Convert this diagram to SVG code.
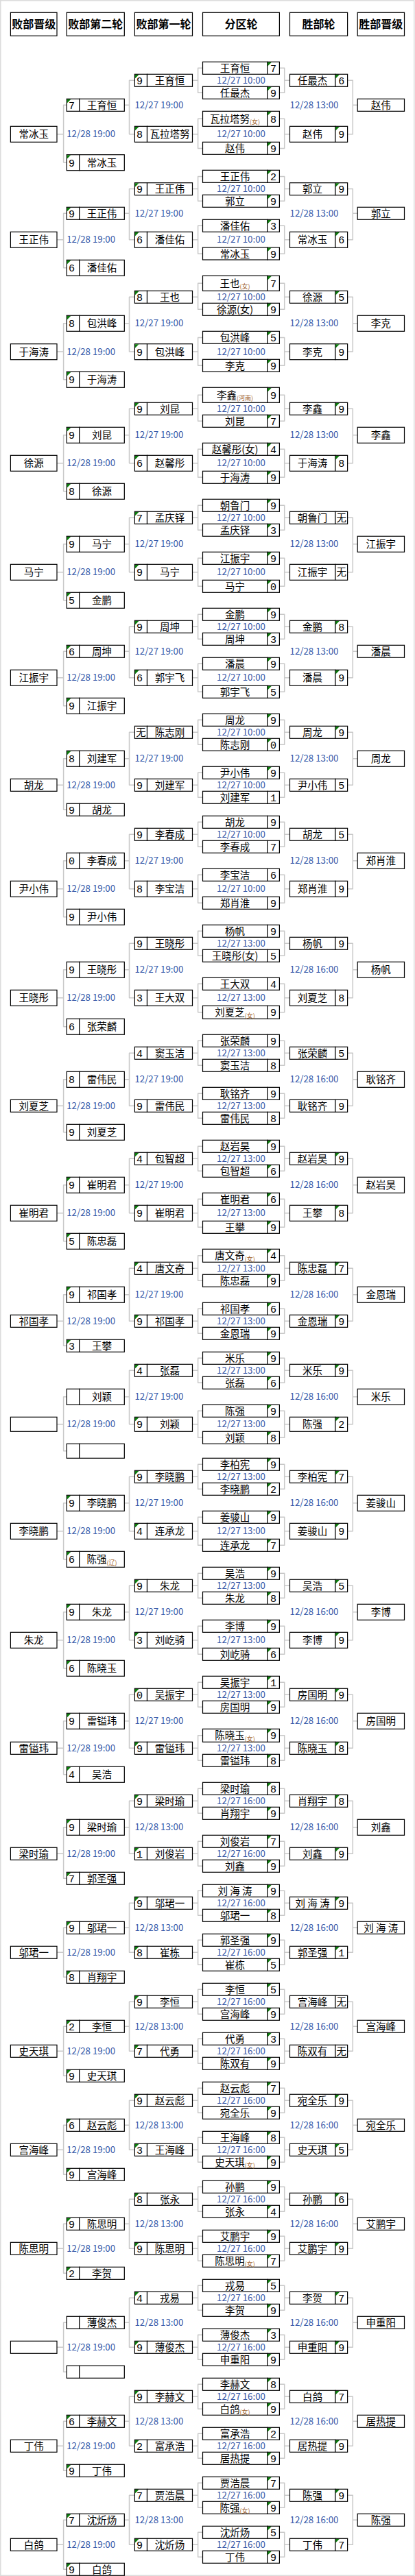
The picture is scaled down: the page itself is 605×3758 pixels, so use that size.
<svg xmlns="http://www.w3.org/2000/svg" xmlns:xlink="http://www.w3.org/1999/xlink" width="605" height="3758" viewBox="0 0 605 3758">
<style>
.b{fill:#fff;stroke:#000;stroke-width:1.2}
text{font-family:"Noto Sans CJK SC","Noto Sans CJK JP",sans-serif}
.n{font-size:14.5px;text-anchor:middle;fill:#000}
.s{font-family:"Liberation Mono","DejaVu Sans Mono",monospace;font-size:15px;text-anchor:middle;fill:#000}
.u{font-size:9px;fill:#a0622d}
.d{font-family:"Liberation Mono","DejaVu Sans Mono",monospace;font-size:13.3px;fill:#3557a7}
.m{text-anchor:middle}
.h{font-size:16px;font-weight:bold;text-anchor:middle;fill:#000}
.c{fill:none;stroke:#c8c8c8;stroke-width:1.5;stroke-linejoin:round}
</style>
<defs>
<path id="t" d="M0 0h5.5L0 5.5z" fill="#0a7a0a"/>
<g id="D18"><rect class="b" width="94.2" height="18"/><rect class="b" x="94.2" width="17.7" height="18"/></g>
<g id="D19"><rect class="b" width="94.2" height="19"/><rect class="b" x="94.2" width="17.7" height="19"/></g>
<g id="D22"><rect class="b" width="94.2" height="22"/><rect class="b" x="94.2" width="17.7" height="22"/></g>
<g id="W18"><rect class="b" width="66.3" height="18"/><rect class="b" x="66.3" width="17.8" height="18"/></g>
<g id="W21"><rect class="b" width="66.3" height="21"/><rect class="b" x="66.3" width="17.8" height="21"/></g>
<g id="W23"><rect class="b" width="66.3" height="23"/><rect class="b" x="66.3" width="17.8" height="23"/></g>
<g id="E18"><rect class="b" width="18.1" height="18"/><rect class="b" x="18.1" width="66" height="18"/></g>
<g id="E21"><rect class="b" width="18.1" height="21"/><rect class="b" x="18.1" width="66" height="21"/></g>
<g id="E23"><rect class="b" width="18.1" height="23"/><rect class="b" x="18.1" width="66" height="23"/></g>
<g id="F18"><rect class="b" width="18.5" height="18"/><rect class="b" x="18.5" width="65.6" height="18"/></g>
<g id="F21"><rect class="b" width="18.5" height="21"/><rect class="b" x="18.5" width="65.6" height="21"/></g>
<g id="F23"><rect class="b" width="18.5" height="23"/><rect class="b" x="18.5" width="65.6" height="23"/></g>
<rect id="Q18" class="b" width="68.3" height="18"/>
<rect id="Q23" class="b" width="68.3" height="23"/>
<rect id="R18" class="b" width="67.6" height="18"/>
<rect id="R21" class="b" width="67.6" height="21"/>
<rect id="R23" class="b" width="67.6" height="23"/>
<clipPath id="k1"><rect x="196.4" y="0" width="84.1" height="3758"/></clipPath>
<clipPath id="k2"><rect x="97.2" y="0" width="84.1" height="3758"/></clipPath>
<clipPath id="k3"><rect x="422.5" y="0" width="84.1" height="3758"/></clipPath>
</defs>
<rect x="0" y="0" width="605" height="3758" fill="#fff"/>
<rect x="0.75" y="0.75" width="603" height="3756.5" fill="none" stroke="#dcdcdc" stroke-width="1.5"/>

<g id="headers">
<g id="h1"><rect class="b" x="15.4" y="18.3" width="67.6" height="34"/><text class="h" x="49.2" y="41.3">败部晋级</text></g>
<g id="h2"><rect class="b" x="97.2" y="18.3" width="84.1" height="34"/><text class="h" x="139.2" y="41.3">败部第二轮</text></g>
<g id="h3"><rect class="b" x="196.4" y="18.3" width="84.1" height="34"/><text class="h" x="238.4" y="41.3">败部第一轮</text></g>
<g id="h4"><rect class="b" x="295.5" y="18.3" width="111.9" height="34"/><text class="h" x="351.5" y="41.3">分区轮</text></g>
<g id="h5"><rect class="b" x="422.5" y="18.3" width="84.1" height="34"/><text class="h" x="464.5" y="41.3">胜部轮</text></g>
<g id="h6"><rect class="b" x="521.2" y="18.3" width="68.3" height="34"/><text class="h" x="555.3" y="41.3">胜部晋级</text></g>
</g>

<g id="connectors" class="c">
<path d="M295.5 99.3H288.6V135.3H295.5M288.6 117.3H280.5M407.4 99.3H414.7V135.3H407.4M414.7 117.3H422.5M295.5 173.3H288.6V216.5H295.5M288.6 195.8H280.5M407.4 173.3H414.7V216.5H407.4M414.7 195.8H422.5M196.4 117.3H188.5V195.8H196.4M188.5 153.3H181.3M506.6 117.3H514.3V195.8H506.6M514.3 153.3H521.2M97.2 153.3H92.6V237H97.2M92.6 195.8H83"/>
<path d="M295.5 257.5H288.6V293.3H295.5M288.6 275.5H280.5M407.4 257.5H414.7V293.3H407.4M414.7 275.5H422.5M295.5 329.3H288.6V370.2H295.5M288.6 349.7H280.5M407.4 329.3H414.7V370.2H407.4M414.7 349.7H422.5M196.4 275.5H188.5V349.7H196.4M188.5 311.3H181.3M506.6 275.5H514.3V349.7H506.6M514.3 311.3H521.2M97.2 311.3H92.6V390.8H97.2M92.6 349.7H83"/>
<path d="M295.5 413.3H288.6V451.3H295.5M288.6 433.3H280.5M407.4 413.3H414.7V451.3H407.4M414.7 433.3H422.5M295.5 492.5H288.6V533.3H295.5M288.6 513H280.5M407.4 492.5H414.7V533.3H407.4M414.7 513H422.5M196.4 433.3H188.5V513H196.4M188.5 471.8H181.3M506.6 433.3H514.3V513H506.6M514.3 471.8H521.2M97.2 471.8H92.6V553.8H97.2M92.6 513H83"/>
<path d="M295.5 576.3H288.6V614.3H295.5M288.6 596.3H280.5M407.4 576.3H414.7V614.3H407.4M414.7 596.3H422.5M295.5 655.3H288.6V696.3H295.5M288.6 675.8H280.5M407.4 655.3H414.7V696.3H407.4M414.7 675.8H422.5M196.4 596.3H188.5V675.8H196.4M188.5 634.8H181.3M506.6 596.3H514.3V675.8H506.6M514.3 634.8H521.2M97.2 634.8H92.6V716.8H97.2M92.6 675.8H83"/>
<path d="M295.5 737.3H288.6V773.3H295.5M288.6 755.3H280.5M407.4 737.3H414.7V773.3H407.4M414.7 755.3H422.5M295.5 814.3H288.6V855.3H295.5M288.6 834.8H280.5M407.4 814.3H414.7V855.3H407.4M414.7 834.8H422.5M196.4 755.3H188.5V834.8H196.4M188.5 793.8H181.3M506.6 755.3H514.3V834.8H506.6M514.3 793.8H521.2M97.2 793.8H92.6V875.8H97.2M92.6 834.8H83"/>
<path d="M295.5 896.3H288.6V932.3H295.5M288.6 914.3H280.5M407.4 896.3H414.7V932.3H407.4M414.7 914.3H422.5M295.5 968.3H288.6V1009.3H295.5M288.6 988.8H280.5M407.4 968.3H414.7V1009.3H407.4M414.7 988.8H422.5M196.4 914.3H188.5V988.8H196.4M188.5 950.3H181.3M506.6 914.3H514.3V988.8H506.6M514.3 950.3H521.2M97.2 950.3H92.6V1029.8H97.2M92.6 988.8H83"/>
<path d="M295.5 1050.3H288.6V1086.3H295.5M288.6 1068.3H280.5M407.4 1050.3H414.7V1086.3H407.4M414.7 1068.3H422.5M295.5 1127.3H288.6V1163.3H295.5M288.6 1145.3H280.5M407.4 1127.3H414.7V1163.3H407.4M414.7 1145.3H422.5M196.4 1068.3H188.5V1145.3H196.4M188.5 1106.8H181.3M506.6 1068.3H514.3V1145.3H506.6M514.3 1106.8H521.2M97.2 1106.8H92.6V1181.3H97.2M92.6 1145.3H83"/>
<path d="M295.5 1199.3H288.6V1235.3H295.5M288.6 1217.3H280.5M407.4 1199.3H414.7V1235.3H407.4M414.7 1217.3H422.5M295.5 1276.3H288.6V1317.3H295.5M288.6 1296.8H280.5M407.4 1276.3H414.7V1317.3H407.4M414.7 1296.8H422.5M196.4 1217.3H188.5V1296.8H196.4M188.5 1255.8H181.3M506.6 1217.3H514.3V1296.8H506.6M514.3 1255.8H521.2M97.2 1255.8H92.6V1337.8H97.2M92.6 1296.8H83"/>
<path d="M295.5 1358.3H288.6V1394.3H295.5M288.6 1376.3H280.5M407.4 1358.3H414.7V1394.3H407.4M414.7 1376.3H422.5M295.5 1435.3H288.6V1476.8H295.5M288.6 1455.8H280.5M407.4 1435.3H414.7V1476.8H407.4M414.7 1455.8H422.5M196.4 1376.3H188.5V1455.8H196.4M188.5 1414.8H181.3M506.6 1376.3H514.3V1455.8H506.6M514.3 1414.8H521.2M97.2 1414.8H92.6V1497.8H97.2M92.6 1455.8H83"/>
<path d="M295.5 1518.3H288.6V1554.3H295.5M288.6 1536.3H280.5M407.4 1518.3H414.7V1554.3H407.4M414.7 1536.3H422.5M295.5 1595.3H288.6V1631.3H295.5M288.6 1613.3H280.5M407.4 1595.3H414.7V1631.3H407.4M414.7 1613.3H422.5M196.4 1536.3H188.5V1613.3H196.4M188.5 1574.8H181.3M506.6 1536.3H514.3V1613.3H506.6M514.3 1574.8H521.2M97.2 1574.8H92.6V1651.8H97.2M92.6 1613.3H83"/>
<path d="M295.5 1672.3H288.6V1708.3H295.5M288.6 1690.3H280.5M407.4 1672.3H414.7V1708.3H407.4M414.7 1690.3H422.5M295.5 1749.3H288.6V1790.3H295.5M288.6 1769.8H280.5M407.4 1749.3H414.7V1790.3H407.4M414.7 1769.8H422.5M196.4 1690.3H188.5V1769.8H196.4M188.5 1728.8H181.3M506.6 1690.3H514.3V1769.8H506.6M514.3 1728.8H521.2M97.2 1728.8H92.6V1810.8H97.2M92.6 1769.8H83"/>
<path d="M295.5 1831.8H288.6V1868.3H295.5M288.6 1850.3H280.5M407.4 1831.8H414.7V1868.3H407.4M414.7 1850.3H422.5M295.5 1909.3H288.6V1945.3H295.5M288.6 1927.3H280.5M407.4 1909.3H414.7V1945.3H407.4M414.7 1927.3H422.5M196.4 1850.3H188.5V1927.3H196.4M188.5 1888.8H181.3M506.6 1850.3H514.3V1927.3H506.6M514.3 1888.8H521.2M97.2 1888.8H92.6V1963.3H97.2M92.6 1927.3H83"/>
<path d="M295.5 1981.3H288.6V2017.3H295.5M288.6 1999.3H280.5M407.4 1981.3H414.7V2017.3H407.4M414.7 1999.3H422.5M295.5 2058.3H288.6V2097.3H295.5M288.6 2077.8H280.5M407.4 2058.3H414.7V2097.3H407.4M414.7 2077.8H422.5M196.4 1999.3H188.5V2077.8H196.4M188.5 2037.8H181.3M506.6 1999.3H514.3V2077.8H506.6M514.3 2037.8H521.2M97.2 2037.8H92.6V2116.8H97.2M92.6 2077.8H83"/>
<path d="M295.5 2136.3H288.6V2172.3H295.5M288.6 2154.3H280.5M407.4 2136.3H414.7V2172.3H407.4M414.7 2154.3H422.5M295.5 2213.3H288.6V2254.3H295.5M288.6 2233.8H280.5M407.4 2213.3H414.7V2254.3H407.4M414.7 2233.8H422.5M196.4 2154.3H188.5V2233.8H196.4M188.5 2192.8H181.3M506.6 2154.3H514.3V2233.8H506.6M514.3 2192.8H521.2M97.2 2192.8H92.6V2274.8H97.2M92.6 2233.8H83"/>
<path d="M295.5 2295.3H288.6V2331.3H295.5M288.6 2313.3H280.5M407.4 2295.3H414.7V2331.3H407.4M414.7 2313.3H422.5M295.5 2372.3H288.6V2413.3H295.5M288.6 2392.8H280.5M407.4 2372.3H414.7V2413.3H407.4M414.7 2392.8H422.5M196.4 2313.3H188.5V2392.8H196.4M188.5 2351.8H181.3M506.6 2313.3H514.3V2392.8H506.6M514.3 2351.8H521.2M97.2 2351.8H92.6V2433.8H97.2M92.6 2392.8H83"/>
<path d="M295.5 2454.3H288.6V2490.3H295.5M288.6 2472.3H280.5M407.4 2454.3H414.7V2490.3H407.4M414.7 2472.3H422.5M295.5 2531.8H288.6V2568.3H295.5M288.6 2550.3H280.5M407.4 2531.8H414.7V2568.3H407.4M414.7 2550.3H422.5M196.4 2472.3H188.5V2550.3H196.4M188.5 2510.8H181.3M506.6 2472.3H514.3V2550.3H506.6M514.3 2510.8H521.2M97.2 2510.8H92.6V2588.8H97.2M92.6 2550.3H83"/>
<path d="M295.5 2609.3H288.6V2645.3H295.5M288.6 2627.3H280.5M407.4 2609.3H414.7V2645.3H407.4M414.7 2627.3H422.5M295.5 2686.3H288.6V2722.3H295.5M288.6 2704.3H280.5M407.4 2686.3H414.7V2722.3H407.4M414.7 2704.3H422.5M196.4 2627.3H188.5V2704.3H196.4M188.5 2665.8H181.3M506.6 2627.3H514.3V2704.3H506.6M514.3 2665.8H521.2M97.2 2665.8H92.6V2740.3H97.2M92.6 2704.3H83"/>
<path d="M295.5 2758.3H288.6V2794.3H295.5M288.6 2776.3H280.5M407.4 2758.3H414.7V2794.3H407.4M414.7 2776.3H422.5M295.5 2830.3H288.6V2866.3H295.5M288.6 2848.3H280.5M407.4 2830.3H414.7V2866.3H407.4M414.7 2848.3H422.5M196.4 2776.3H188.5V2848.3H196.4M188.5 2812.3H181.3M506.6 2776.3H514.3V2848.3H506.6M514.3 2812.3H521.2M97.2 2812.3H92.6V2884.3H97.2M92.6 2848.3H83"/>
<path d="M295.5 2902.3H288.6V2938.3H295.5M288.6 2920.3H280.5M407.4 2902.3H414.7V2938.3H407.4M414.7 2920.3H422.5M295.5 2974.3H288.6V3010.3H295.5M288.6 2992.3H280.5M407.4 2974.3H414.7V3010.3H407.4M414.7 2992.3H422.5M196.4 2920.3H188.5V2992.3H196.4M188.5 2956.3H181.3M506.6 2920.3H514.3V2992.3H506.6M514.3 2956.3H521.2M97.2 2956.3H92.6V3028.3H97.2M92.6 2992.3H83"/>
<path d="M295.5 3046.3H288.6V3082.3H295.5M288.6 3064.3H280.5M407.4 3046.3H414.7V3082.3H407.4M414.7 3064.3H422.5M295.5 3118.3H288.6V3154.3H295.5M288.6 3136.3H280.5M407.4 3118.3H414.7V3154.3H407.4M414.7 3136.3H422.5M196.4 3064.3H188.5V3136.3H196.4M188.5 3100.3H181.3M506.6 3064.3H514.3V3136.3H506.6M514.3 3100.3H521.2M97.2 3100.3H92.6V3172.3H97.2M92.6 3136.3H83"/>
<path d="M295.5 3190.3H288.6V3226.3H295.5M288.6 3208.3H280.5M407.4 3190.3H414.7V3226.3H407.4M414.7 3208.3H422.5M295.5 3262.3H288.6V3298.3H295.5M288.6 3280.3H280.5M407.4 3262.3H414.7V3298.3H407.4M414.7 3280.3H422.5M196.4 3208.3H188.5V3280.3H196.4M188.5 3244.3H181.3M506.6 3208.3H514.3V3280.3H506.6M514.3 3244.3H521.2M97.2 3244.3H92.6V3316.3H97.2M92.6 3280.3H83"/>
<path d="M295.5 3334.3H288.6V3370.3H295.5M288.6 3352.3H280.5M407.4 3334.3H414.7V3370.3H407.4M414.7 3352.3H422.5M295.5 3406.3H288.6V3442.3H295.5M288.6 3424.3H280.5M407.4 3406.3H414.7V3442.3H407.4M414.7 3424.3H422.5M196.4 3352.3H188.5V3424.3H196.4M188.5 3388.3H181.3M506.6 3352.3H514.3V3424.3H506.6M514.3 3388.3H521.2M97.2 3388.3H92.6V3460.3H97.2M92.6 3424.3H83"/>
<path d="M295.5 3478.3H288.6V3514.3H295.5M288.6 3496.3H280.5M407.4 3478.3H414.7V3514.3H407.4M414.7 3496.3H422.5M295.5 3550.3H288.6V3586.3H295.5M288.6 3568.3H280.5M407.4 3550.3H414.7V3586.3H407.4M414.7 3568.3H422.5M196.4 3496.3H188.5V3568.3H196.4M188.5 3532.3H181.3M506.6 3496.3H514.3V3568.3H506.6M514.3 3532.3H521.2M97.2 3532.3H92.6V3604.3H97.2M92.6 3568.3H83"/>
<path d="M295.5 3622.3H288.6V3658.3H295.5M288.6 3640.3H280.5M407.4 3622.3H414.7V3658.3H407.4M414.7 3640.3H422.5M295.5 3694.3H288.6V3730.3H295.5M288.6 3712.3H280.5M407.4 3694.3H414.7V3730.3H407.4M414.7 3712.3H422.5M196.4 3640.3H188.5V3712.3H196.4M188.5 3676.3H181.3M506.6 3640.3H514.3V3712.3H506.6M514.3 3676.3H521.2M97.2 3676.3H92.6V3748.3H97.2M92.6 3712.3H83"/>
</g>

<g id="pair1">
<g id="p1a1"><use href="#D18" x="295.5" y="90.3"/><text class="n" x="342.6" y="104.8">王育恒</text><text class="s" x="398.6" y="104.8">7</text><use href="#t" x="390.2" y="90.9"/></g>
<g id="p1a2"><use href="#D18" x="295.5" y="126.3"/><text class="n" x="342.6" y="140.8">任最杰</text><text class="s" x="398.6" y="140.8">9</text><use href="#t" x="390.2" y="126.9"/></g>
<g id="p1b1"><use href="#D22" x="295.5" y="162.3"/><text class="n" x="342.6" y="178.8">瓦拉塔努<tspan class="u" dy="2.5">(女)</tspan></text><text class="s" x="398.6" y="178.8">8</text><use href="#t" x="390.2" y="162.9"/></g>
<g id="p1b2"><use href="#D18" x="295.5" y="207.3"/><text class="n" x="342.6" y="222">赵伟</text><text class="s" x="398.6" y="222">9</text><use href="#t" x="390.2" y="207.9"/></g>
<g id="p1l1a"><use href="#E18" x="196.4" y="108.3"/><text class="s" x="203.6" y="122.8">9</text><text class="n" x="247.5" y="122.8">王育恒</text><use href="#t" x="196.9" y="108.9"/></g>
<g id="p1l1b"><use href="#E23" x="196.4" y="184.3"/><text class="s" x="203.6" y="201.3">8</text><text class="n" x="247.5" y="201.3">瓦拉塔努</text><use href="#t" x="196.9" y="184.9"/></g>
<g id="p1w1"><use href="#W18" x="422.5" y="108.3"/><text class="n" x="455.6" y="122.8">任最杰</text><text class="s" x="497.7" y="122.8">6</text><use href="#t" x="489.3" y="108.9"/></g>
<g id="p1w2"><use href="#W23" x="422.5" y="184.3"/><text class="n" x="455.6" y="201.3">赵伟</text><text class="s" x="497.7" y="201.3">9</text><use href="#t" x="489.3" y="184.9"/></g>
<g id="p1wq"><use href="#Q18" x="521.2" y="144.3"/><text class="n" x="555.3" y="158.8">赵伟</text></g>
<g id="p1l2a"><use href="#F18" x="97.2" y="144.3"/><text class="s" x="104.4" y="158.8">7</text><text class="n" x="148.5" y="158.8">王育恒</text><use href="#t" x="97.7" y="144.9"/></g>
<g id="p1l2b"><use href="#F23" x="97.2" y="225.7"/><text class="s" x="104.4" y="242.5">9</text><text class="n" x="148.5" y="242.5">常冰玉</text><use href="#t" x="97.7" y="226.3"/></g>
<g id="p1lq"><use href="#R23" x="15.4" y="184.3"/><text class="n" x="49.2" y="201.3">常冰玉</text></g>
</g>

<g id="pair2">
<g id="p2a1"><use href="#D18" x="295.5" y="248.3"/><text class="n" x="342.6" y="263">王正伟</text><text class="s" x="398.6" y="263">2</text><use href="#t" x="390.2" y="248.9"/></g>
<g id="p2a2"><use href="#D18" x="295.5" y="284.3"/><text class="n" x="342.6" y="298.8">郭立</text><text class="s" x="398.6" y="298.8">9</text><use href="#t" x="390.2" y="284.9"/></g>
<g id="p2b1"><use href="#D18" x="295.5" y="320.3"/><text class="n" x="342.6" y="334.8">潘佳佑</text><text class="s" x="398.6" y="334.8">3</text><use href="#t" x="390.2" y="320.9"/></g>
<g id="p2b2"><use href="#D18" x="295.5" y="361"/><text class="n" x="342.6" y="375.7">常冰玉</text><text class="s" x="398.6" y="375.7">9</text><use href="#t" x="390.2" y="361.6"/></g>
<g id="p2l1a"><use href="#E18" x="196.4" y="266.7"/><text class="s" x="203.6" y="281">9</text><text class="n" x="247.5" y="281">王正伟</text><use href="#t" x="196.9" y="267.3"/></g>
<g id="p2l1b"><use href="#E23" x="196.4" y="338.3"/><text class="s" x="203.6" y="355.2">6</text><text class="n" x="247.5" y="355.2">潘佳佑</text><use href="#t" x="196.9" y="338.9"/></g>
<g id="p2w1"><use href="#W18" x="422.5" y="266.7"/><text class="n" x="455.6" y="281">郭立</text><text class="s" x="497.7" y="281">9</text><use href="#t" x="489.3" y="267.3"/></g>
<g id="p2w2"><use href="#W23" x="422.5" y="338.3"/><text class="n" x="455.6" y="355.2">常冰玉</text><text class="s" x="497.7" y="355.2">6</text><use href="#t" x="489.3" y="338.9"/></g>
<g id="p2wq"><use href="#Q18" x="521.2" y="302.3"/><text class="n" x="555.3" y="316.8">郭立</text></g>
<g id="p2l2a"><use href="#F18" x="97.2" y="302.3"/><text class="s" x="104.4" y="316.8">9</text><text class="n" x="148.5" y="316.8">王正伟</text><use href="#t" x="97.7" y="302.9"/></g>
<g id="p2l2b"><use href="#F23" x="97.2" y="379.3"/><text class="s" x="104.4" y="396.3">6</text><text class="n" x="148.5" y="396.3">潘佳佑</text><use href="#t" x="97.7" y="379.9"/></g>
<g id="p2lq"><use href="#R23" x="15.4" y="338.3"/><text class="n" x="49.2" y="355.2">王正伟</text></g>
</g>

<g id="pair3">
<g id="p3a1"><use href="#D22" x="295.5" y="402.3"/><text class="n" x="342.6" y="418.8">王也<tspan class="u" dy="2.5">(女)</tspan></text><text class="s" x="398.6" y="418.8">7</text><use href="#t" x="390.2" y="402.9"/></g>
<g id="p3a2"><use href="#D18" x="295.5" y="442.3"/><text class="n" x="342.6" y="456.8">徐源(女)</text><text class="s" x="398.6" y="456.8">9</text><use href="#t" x="390.2" y="442.9"/></g>
<g id="p3b1"><use href="#D18" x="295.5" y="483.3"/><text class="n" x="342.6" y="498">包洪峰</text><text class="s" x="398.6" y="498">5</text><use href="#t" x="390.2" y="483.9"/></g>
<g id="p3b2"><use href="#D18" x="295.5" y="524.3"/><text class="n" x="342.6" y="538.8">李克</text><text class="s" x="398.6" y="538.8">9</text><use href="#t" x="390.2" y="524.9"/></g>
<g id="p3l1a"><use href="#E18" x="196.4" y="424.3"/><text class="s" x="203.6" y="438.8">8</text><text class="n" x="247.5" y="438.8">王也</text><use href="#t" x="196.9" y="424.9"/></g>
<g id="p3l1b"><use href="#E23" x="196.4" y="501.7"/><text class="s" x="203.6" y="518.5">9</text><text class="n" x="247.5" y="518.5">包洪峰</text><use href="#t" x="196.9" y="502.3"/></g>
<g id="p3w1"><use href="#W18" x="422.5" y="424.3"/><text class="n" x="455.6" y="438.8">徐源</text><text class="s" x="497.7" y="438.8">5</text><use href="#t" x="489.3" y="424.9"/></g>
<g id="p3w2"><use href="#W23" x="422.5" y="501.7"/><text class="n" x="455.6" y="518.5">李克</text><text class="s" x="497.7" y="518.5">9</text><use href="#t" x="489.3" y="502.3"/></g>
<g id="p3wq"><use href="#Q23" x="521.2" y="460.3"/><text class="n" x="555.3" y="477.3">李克</text></g>
<g id="p3l2a"><use href="#F23" x="97.2" y="460.3"/><text class="s" x="104.4" y="477.3">8</text><text class="n" x="148.5" y="477.3">包洪峰</text><use href="#t" x="97.7" y="460.9"/></g>
<g id="p3l2b"><use href="#F23" x="97.2" y="542.3"/><text class="s" x="104.4" y="559.3">9</text><text class="n" x="148.5" y="559.3">于海涛</text><use href="#t" x="97.7" y="542.9"/></g>
<g id="p3lq"><use href="#R23" x="15.4" y="501.7"/><text class="n" x="49.2" y="518.5">于海涛</text></g>
</g>

<g id="pair4">
<g id="p4a1"><use href="#D22" x="295.5" y="565.3"/><text class="n" x="342.6" y="581.8">李鑫<tspan class="u" dy="2.5">(河南)</tspan></text><text class="s" x="398.6" y="581.8">9</text><use href="#t" x="390.2" y="565.9"/></g>
<g id="p4a2"><use href="#D18" x="295.5" y="605.3"/><text class="n" x="342.6" y="619.8">刘昆</text><text class="s" x="398.6" y="619.8">7</text><use href="#t" x="390.2" y="605.9"/></g>
<g id="p4b1"><use href="#D18" x="295.5" y="646.3"/><text class="n" x="342.6" y="660.8">赵馨彤(女)</text><text class="s" x="398.6" y="660.8">4</text><use href="#t" x="390.2" y="646.9"/></g>
<g id="p4b2"><use href="#D18" x="295.5" y="687.3"/><text class="n" x="342.6" y="701.8">于海涛</text><text class="s" x="398.6" y="701.8">9</text><use href="#t" x="390.2" y="687.9"/></g>
<g id="p4l1a"><use href="#E18" x="196.4" y="587.3"/><text class="s" x="203.6" y="601.8">9</text><text class="n" x="247.5" y="601.8">刘昆</text><use href="#t" x="196.9" y="587.9"/></g>
<g id="p4l1b"><use href="#E23" x="196.4" y="664.3"/><text class="s" x="203.6" y="681.3">6</text><text class="n" x="247.5" y="681.3">赵馨彤</text><use href="#t" x="196.9" y="664.9"/></g>
<g id="p4w1"><use href="#W18" x="422.5" y="587.3"/><text class="n" x="455.6" y="601.8">李鑫</text><text class="s" x="497.7" y="601.8">9</text><use href="#t" x="489.3" y="587.9"/></g>
<g id="p4w2"><use href="#W23" x="422.5" y="664.3"/><text class="n" x="455.6" y="681.3">于海涛</text><text class="s" x="497.7" y="681.3">8</text><use href="#t" x="489.3" y="664.9"/></g>
<g id="p4wq"><use href="#Q23" x="521.2" y="623.3"/><text class="n" x="555.3" y="640.3">李鑫</text></g>
<g id="p4l2a"><use href="#F23" x="97.2" y="623.3"/><text class="s" x="104.4" y="640.3">9</text><text class="n" x="148.5" y="640.3">刘昆</text><use href="#t" x="97.7" y="623.9"/></g>
<g id="p4l2b"><use href="#F23" x="97.2" y="705.3"/><text class="s" x="104.4" y="722.3">8</text><text class="n" x="148.5" y="722.3">徐源</text><use href="#t" x="97.7" y="705.9"/></g>
<g id="p4lq"><use href="#R23" x="15.4" y="664.3"/><text class="n" x="49.2" y="681.3">徐源</text></g>
</g>

<g id="pair5">
<g id="p5a1"><use href="#D18" x="295.5" y="728.3"/><text class="n" x="342.6" y="742.8">朝鲁门</text><text class="s" x="398.6" y="742.8">9</text><use href="#t" x="390.2" y="728.9"/></g>
<g id="p5a2"><use href="#D18" x="295.5" y="764.3"/><text class="n" x="342.6" y="778.8">孟庆铎</text><text class="s" x="398.6" y="778.8">3</text><use href="#t" x="390.2" y="764.9"/></g>
<g id="p5b1"><use href="#D18" x="295.5" y="805.3"/><text class="n" x="342.6" y="819.8">江振宇</text><text class="s" x="398.6" y="819.8">9</text><use href="#t" x="390.2" y="805.9"/></g>
<g id="p5b2"><use href="#D18" x="295.5" y="846.3"/><text class="n" x="342.6" y="860.8">马宁</text><text class="s" x="398.6" y="860.8">0</text><use href="#t" x="390.2" y="846.9"/></g>
<g id="p5l1a"><use href="#E18" x="196.4" y="746.3"/><text class="s" x="203.6" y="760.8">7</text><text class="n" x="247.5" y="760.8">孟庆铎</text><use href="#t" x="196.9" y="746.9"/></g>
<g id="p5l1b"><use href="#E23" x="196.4" y="823.3"/><text class="s" x="203.6" y="840.3">9</text><text class="n" x="247.5" y="840.3">马宁</text><use href="#t" x="196.9" y="823.9"/></g>
<g id="p5w1"><use href="#W18" x="422.5" y="746.3"/><text class="n" x="455.6" y="760.8">朝鲁门</text><text class="n" x="497.7" y="760.8">无</text></g>
<g id="p5w2"><use href="#W23" x="422.5" y="823.3"/><text class="n" x="455.6" y="840.3">江振宇</text><text class="n" x="497.7" y="840.3">无</text></g>
<g id="p5wq"><use href="#Q23" x="521.2" y="782.3"/><text class="n" x="555.3" y="799.3">江振宇</text></g>
<g id="p5l2a"><use href="#F23" x="97.2" y="782.3"/><text class="s" x="104.4" y="799.3">9</text><text class="n" x="148.5" y="799.3">马宁</text><use href="#t" x="97.7" y="782.9"/></g>
<g id="p5l2b"><use href="#F23" x="97.2" y="864.3"/><text class="s" x="104.4" y="881.3">5</text><text class="n" x="148.5" y="881.3">金鹏</text><use href="#t" x="97.7" y="864.9"/></g>
<g id="p5lq"><use href="#R23" x="15.4" y="823.3"/><text class="n" x="49.2" y="840.3">马宁</text></g>
</g>

<g id="pair6">
<g id="p6a1"><use href="#D18" x="295.5" y="887.3"/><text class="n" x="342.6" y="901.8">金鹏</text><text class="s" x="398.6" y="901.8">9</text><use href="#t" x="390.2" y="887.9"/></g>
<g id="p6a2"><use href="#D18" x="295.5" y="923.3"/><text class="n" x="342.6" y="937.8">周坤</text><text class="s" x="398.6" y="937.8">3</text><use href="#t" x="390.2" y="923.9"/></g>
<g id="p6b1"><use href="#D18" x="295.5" y="959.3"/><text class="n" x="342.6" y="973.8">潘晨</text><text class="s" x="398.6" y="973.8">9</text><use href="#t" x="390.2" y="959.9"/></g>
<g id="p6b2"><use href="#D18" x="295.5" y="1000.3"/><text class="n" x="342.6" y="1014.8">郭宇飞</text><text class="s" x="398.6" y="1014.8">5</text><use href="#t" x="390.2" y="1000.9"/></g>
<g id="p6l1a"><use href="#E18" x="196.4" y="905.3"/><text class="s" x="203.6" y="919.8">9</text><text class="n" x="247.5" y="919.8">周坤</text><use href="#t" x="196.9" y="905.9"/></g>
<g id="p6l1b"><use href="#E23" x="196.4" y="977.3"/><text class="s" x="203.6" y="994.3">6</text><text class="n" x="247.5" y="994.3">郭宇飞</text><use href="#t" x="196.9" y="977.9"/></g>
<g id="p6w1"><use href="#W18" x="422.5" y="905.3"/><text class="n" x="455.6" y="919.8">金鹏</text><text class="s" x="497.7" y="919.8">8</text><use href="#t" x="489.3" y="905.9"/></g>
<g id="p6w2"><use href="#W23" x="422.5" y="977.3"/><text class="n" x="455.6" y="994.3">潘晨</text><text class="s" x="497.7" y="994.3">9</text><use href="#t" x="489.3" y="977.9"/></g>
<g id="p6wq"><use href="#Q18" x="521.2" y="941.3"/><text class="n" x="555.3" y="955.8">潘晨</text></g>
<g id="p6l2a"><use href="#F18" x="97.2" y="941.3"/><text class="s" x="104.4" y="955.8">6</text><text class="n" x="148.5" y="955.8">周坤</text><use href="#t" x="97.7" y="941.9"/></g>
<g id="p6l2b"><use href="#F23" x="97.2" y="1018.3"/><text class="s" x="104.4" y="1035.3">9</text><text class="n" x="148.5" y="1035.3">江振宇</text><use href="#t" x="97.7" y="1018.9"/></g>
<g id="p6lq"><use href="#R23" x="15.4" y="977.3"/><text class="n" x="49.2" y="994.3">江振宇</text></g>
</g>

<g id="pair7">
<g id="p7a1"><use href="#D18" x="295.5" y="1041.3"/><text class="n" x="342.6" y="1055.8">周龙</text><text class="s" x="398.6" y="1055.8">9</text><use href="#t" x="390.2" y="1041.9"/></g>
<g id="p7a2"><use href="#D18" x="295.5" y="1077.3"/><text class="n" x="342.6" y="1091.8">陈志刚</text><text class="s" x="398.6" y="1091.8">0</text><use href="#t" x="390.2" y="1077.9"/></g>
<g id="p7b1"><use href="#D18" x="295.5" y="1118.3"/><text class="n" x="342.6" y="1132.8">尹小伟</text><text class="s" x="398.6" y="1132.8">9</text><use href="#t" x="390.2" y="1118.9"/></g>
<g id="p7b2"><use href="#D18" x="295.5" y="1154.3"/><text class="n" x="342.6" y="1168.8">刘建军</text><text class="s" x="398.6" y="1168.8">1</text></g>
<g id="p7l1a"><use href="#E18" x="196.4" y="1059.3"/><text class="n" x="205.4" y="1073.8">无</text><text class="n" x="247.5" y="1073.8">陈志刚</text></g>
<g id="p7l1b"><use href="#E18" x="196.4" y="1136.3"/><text class="s" x="203.6" y="1150.8">9</text><text class="n" x="247.5" y="1150.8">刘建军</text></g>
<g id="p7w1"><use href="#W18" x="422.5" y="1059.3"/><text class="n" x="455.6" y="1073.8">周龙</text><text class="s" x="497.7" y="1073.8">9</text><use href="#t" x="489.3" y="1059.9"/></g>
<g id="p7w2"><use href="#W18" x="422.5" y="1136.3"/><text class="n" x="455.6" y="1150.8">尹小伟</text><text class="s" x="497.7" y="1150.8">5</text></g>
<g id="p7wq"><use href="#Q23" x="521.2" y="1095.3"/><text class="n" x="555.3" y="1112.3">周龙</text></g>
<g id="p7l2a"><use href="#F23" x="97.2" y="1095.3"/><text class="s" x="104.4" y="1112.3">8</text><text class="n" x="148.5" y="1112.3">刘建军</text><use href="#t" x="97.7" y="1095.9"/></g>
<g id="p7l2b"><use href="#F18" x="97.2" y="1172.3"/><text class="s" x="104.4" y="1186.8">9</text><text class="n" x="148.5" y="1186.8">胡龙</text></g>
<g id="p7lq"><use href="#R18" x="15.4" y="1136.3"/><text class="n" x="49.2" y="1150.8">胡龙</text></g>
</g>

<g id="pair8">
<g id="p8a1"><use href="#D18" x="295.5" y="1190.3"/><text class="n" x="342.6" y="1204.8">胡龙</text><text class="s" x="398.6" y="1204.8">9</text></g>
<g id="p8a2"><use href="#D18" x="295.5" y="1226.3"/><text class="n" x="342.6" y="1240.8">李春成</text><text class="s" x="398.6" y="1240.8">7</text></g>
<g id="p8b1"><use href="#D18" x="295.5" y="1267.3"/><text class="n" x="342.6" y="1281.8">李宝洁</text><text class="s" x="398.6" y="1281.8">6</text></g>
<g id="p8b2"><use href="#D18" x="295.5" y="1308.3"/><text class="n" x="342.6" y="1322.8">郑肖淮</text><text class="s" x="398.6" y="1322.8">9</text></g>
<g id="p8l1a"><use href="#E18" x="196.4" y="1208.3"/><text class="s" x="203.6" y="1222.8">9</text><text class="n" x="247.5" y="1222.8">李春成</text></g>
<g id="p8l1b"><use href="#E23" x="196.4" y="1285.3"/><text class="s" x="203.6" y="1302.3">8</text><text class="n" x="247.5" y="1302.3">李宝洁</text></g>
<g id="p8w1"><use href="#W18" x="422.5" y="1208.3"/><text class="n" x="455.6" y="1222.8">胡龙</text><text class="s" x="497.7" y="1222.8">5</text></g>
<g id="p8w2"><use href="#W23" x="422.5" y="1285.3"/><text class="n" x="455.6" y="1302.3">郑肖淮</text><text class="s" x="497.7" y="1302.3">9</text></g>
<g id="p8wq"><use href="#Q23" x="521.2" y="1244.3"/><text class="n" x="555.3" y="1261.3">郑肖淮</text></g>
<g id="p8l2a"><use href="#F23" x="97.2" y="1244.3"/><text class="s" x="104.4" y="1261.3">0</text><text class="n" x="148.5" y="1261.3">李春成</text></g>
<g id="p8l2b"><use href="#F23" x="97.2" y="1326.3"/><text class="s" x="104.4" y="1343.3">9</text><text class="n" x="148.5" y="1343.3">尹小伟</text></g>
<g id="p8lq"><use href="#R23" x="15.4" y="1285.3"/><text class="n" x="49.2" y="1302.3">尹小伟</text></g>
</g>

<g id="pair9">
<g id="p9a1"><use href="#D18" x="295.5" y="1349.3"/><text class="n" x="342.6" y="1363.8">杨帆</text><text class="s" x="398.6" y="1363.8">9</text></g>
<g id="p9a2"><use href="#D18" x="295.5" y="1385.3"/><text class="n" x="342.6" y="1399.8">王晓彤(女)</text><text class="s" x="398.6" y="1399.8">5</text></g>
<g id="p9b1"><use href="#D18" x="295.5" y="1426.3"/><text class="n" x="342.6" y="1440.8">王大双</text><text class="s" x="398.6" y="1440.8">4</text></g>
<g id="p9b2"><use href="#D19" x="295.5" y="1467.3"/><text class="n" x="342.6" y="1482.3">刘夏芝<tspan class="u" dy="2.5">(女)</tspan></text><text class="s" x="398.6" y="1482.3">9</text></g>
<g id="p9l1a"><use href="#E18" x="196.4" y="1367.3"/><text class="s" x="203.6" y="1381.8">9</text><text class="n" x="247.5" y="1381.8">王晓彤</text></g>
<g id="p9l1b"><use href="#E23" x="196.4" y="1444.3"/><text class="s" x="203.6" y="1461.3">3</text><text class="n" x="247.5" y="1461.3">王大双</text></g>
<g id="p9w1"><use href="#W18" x="422.5" y="1367.3"/><text class="n" x="455.6" y="1381.8">杨帆</text><text class="s" x="497.7" y="1381.8">9</text></g>
<g id="p9w2"><use href="#W23" x="422.5" y="1444.3"/><text class="n" x="455.6" y="1461.3">刘夏芝</text><text class="s" x="497.7" y="1461.3">8</text></g>
<g id="p9wq"><use href="#Q23" x="521.2" y="1403.3"/><text class="n" x="555.3" y="1420.3">杨帆</text></g>
<g id="p9l2a"><use href="#F23" x="97.2" y="1403.3"/><text class="s" x="104.4" y="1420.3">9</text><text class="n" x="148.5" y="1420.3">王晓彤</text></g>
<g id="p9l2b"><use href="#F23" x="97.2" y="1486.3"/><text class="s" x="104.4" y="1503.3">6</text><text class="n" x="148.5" y="1503.3">张荣麟</text></g>
<g id="p9lq"><use href="#R23" x="15.4" y="1444.3"/><text class="n" x="49.2" y="1461.3">王晓彤</text></g>
</g>

<g id="pair10">
<g id="p10a1"><use href="#D18" x="295.5" y="1509.3"/><text class="n" x="342.6" y="1523.8">张荣麟</text><text class="s" x="398.6" y="1523.8">9</text></g>
<g id="p10a2"><use href="#D18" x="295.5" y="1545.3"/><text class="n" x="342.6" y="1559.8">窦玉洁</text><text class="s" x="398.6" y="1559.8">8</text></g>
<g id="p10b1"><use href="#D18" x="295.5" y="1586.3"/><text class="n" x="342.6" y="1600.8">耿铭齐</text><text class="s" x="398.6" y="1600.8">9</text></g>
<g id="p10b2"><use href="#D18" x="295.5" y="1622.3"/><text class="n" x="342.6" y="1636.8">雷伟民</text><text class="s" x="398.6" y="1636.8">8</text></g>
<g id="p10l1a"><use href="#E18" x="196.4" y="1527.3"/><text class="s" x="203.6" y="1541.8">4</text><text class="n" x="247.5" y="1541.8">窦玉洁</text></g>
<g id="p10l1b"><use href="#E18" x="196.4" y="1604.3"/><text class="s" x="203.6" y="1618.8">9</text><text class="n" x="247.5" y="1618.8">雷伟民</text></g>
<g id="p10w1"><use href="#W18" x="422.5" y="1527.3"/><text class="n" x="455.6" y="1541.8">张荣麟</text><text class="s" x="497.7" y="1541.8">5</text></g>
<g id="p10w2"><use href="#W18" x="422.5" y="1604.3"/><text class="n" x="455.6" y="1618.8">耿铭齐</text><text class="s" x="497.7" y="1618.8">9</text></g>
<g id="p10wq"><use href="#Q23" x="521.2" y="1563.3"/><text class="n" x="555.3" y="1580.3">耿铭齐</text></g>
<g id="p10l2a"><use href="#F23" x="97.2" y="1563.3"/><text class="s" x="104.4" y="1580.3">8</text><text class="n" x="148.5" y="1580.3">雷伟民</text></g>
<g id="p10l2b"><use href="#F23" x="97.2" y="1640.3"/><text class="s" x="104.4" y="1657.3">9</text><text class="n" x="148.5" y="1657.3">刘夏芝</text></g>
<g id="p10lq"><use href="#R18" x="15.4" y="1604.3"/><text class="n" x="49.2" y="1618.8">刘夏芝</text></g>
</g>

<g id="pair11">
<g id="p11a1"><use href="#D18" x="295.5" y="1663.3"/><text class="n" x="342.6" y="1677.8">赵岩昊</text><text class="s" x="398.6" y="1677.8">9</text><use href="#t" x="390.2" y="1663.9"/></g>
<g id="p11a2"><use href="#D18" x="295.5" y="1699.3"/><text class="n" x="342.6" y="1713.8">包智超</text><text class="s" x="398.6" y="1713.8">6</text><use href="#t" x="390.2" y="1699.9"/></g>
<g id="p11b1"><use href="#D18" x="295.5" y="1740.3"/><text class="n" x="342.6" y="1754.8">崔明君</text><text class="s" x="398.6" y="1754.8">6</text><use href="#t" x="390.2" y="1740.9"/></g>
<g id="p11b2"><use href="#D18" x="295.5" y="1781.3"/><text class="n" x="342.6" y="1795.8">王攀</text><text class="s" x="398.6" y="1795.8">9</text><use href="#t" x="390.2" y="1781.9"/></g>
<g id="p11l1a"><use href="#E18" x="196.4" y="1681.3"/><text class="s" x="203.6" y="1695.8">4</text><text class="n" x="247.5" y="1695.8">包智超</text><use href="#t" x="196.9" y="1681.9"/></g>
<g id="p11l1b"><use href="#E23" x="196.4" y="1758.3"/><text class="s" x="203.6" y="1775.3">9</text><text class="n" x="247.5" y="1775.3">崔明君</text><use href="#t" x="196.9" y="1758.9"/></g>
<g id="p11w1"><use href="#W18" x="422.5" y="1681.3"/><text class="n" x="455.6" y="1695.8">赵岩昊</text><text class="s" x="497.7" y="1695.8">9</text><use href="#t" x="489.3" y="1681.9"/></g>
<g id="p11w2"><use href="#W23" x="422.5" y="1758.3"/><text class="n" x="455.6" y="1775.3">王攀</text><text class="s" x="497.7" y="1775.3">8</text><use href="#t" x="489.3" y="1758.9"/></g>
<g id="p11wq"><use href="#Q23" x="521.2" y="1717.3"/><text class="n" x="555.3" y="1734.3">赵岩昊</text></g>
<g id="p11l2a"><use href="#F23" x="97.2" y="1717.3"/><text class="s" x="104.4" y="1734.3">9</text><text class="n" x="148.5" y="1734.3">崔明君</text><use href="#t" x="97.7" y="1717.9"/></g>
<g id="p11l2b"><use href="#F23" x="97.2" y="1799.3"/><text class="s" x="104.4" y="1816.3">5</text><text class="n" x="148.5" y="1816.3">陈忠磊</text><use href="#t" x="97.7" y="1799.9"/></g>
<g id="p11lq"><use href="#R23" x="15.4" y="1758.3"/><text class="n" x="49.2" y="1775.3">崔明君</text></g>
</g>

<g id="pair12">
<g id="p12a1"><use href="#D19" x="295.5" y="1822.3"/><text class="n" x="342.6" y="1837.3">唐文奇<tspan class="u" dy="2.5">(女)</tspan></text><text class="s" x="398.6" y="1837.3">4</text><use href="#t" x="390.2" y="1822.9"/></g>
<g id="p12a2"><use href="#D18" x="295.5" y="1859.3"/><text class="n" x="342.6" y="1873.8">陈忠磊</text><text class="s" x="398.6" y="1873.8">9</text><use href="#t" x="390.2" y="1859.9"/></g>
<g id="p12b1"><use href="#D18" x="295.5" y="1900.3"/><text class="n" x="342.6" y="1914.8">祁国孝</text><text class="s" x="398.6" y="1914.8">6</text><use href="#t" x="390.2" y="1900.9"/></g>
<g id="p12b2"><use href="#D18" x="295.5" y="1936.3"/><text class="n" x="342.6" y="1950.8">金恩瑞</text><text class="s" x="398.6" y="1950.8">9</text><use href="#t" x="390.2" y="1936.9"/></g>
<g id="p12l1a"><use href="#E18" x="196.4" y="1841.3"/><text class="s" x="203.6" y="1855.8">4</text><text class="n" x="247.5" y="1855.8">唐文奇</text><use href="#t" x="196.9" y="1841.9"/></g>
<g id="p12l1b"><use href="#E18" x="196.4" y="1918.3"/><text class="s" x="203.6" y="1932.8">9</text><text class="n" x="247.5" y="1932.8">祁国孝</text><use href="#t" x="196.9" y="1918.9"/></g>
<g id="p12w1"><use href="#W18" x="422.5" y="1841.3"/><text class="n" x="455.6" y="1855.8">陈忠磊</text><text class="s" x="497.7" y="1855.8">7</text><use href="#t" x="489.3" y="1841.9"/></g>
<g id="p12w2"><use href="#W18" x="422.5" y="1918.3"/><text class="n" x="455.6" y="1932.8">金恩瑞</text><text class="s" x="497.7" y="1932.8">9</text><use href="#t" x="489.3" y="1918.9"/></g>
<g id="p12wq"><use href="#Q23" x="521.2" y="1877.3"/><text class="n" x="555.3" y="1894.3">金恩瑞</text></g>
<g id="p12l2a"><use href="#F23" x="97.2" y="1877.3"/><text class="s" x="104.4" y="1894.3">9</text><text class="n" x="148.5" y="1894.3">祁国孝</text><use href="#t" x="97.7" y="1877.9"/></g>
<g id="p12l2b"><use href="#F18" x="97.2" y="1954.3"/><text class="s" x="104.4" y="1968.8">3</text><text class="n" x="148.5" y="1968.8">王攀</text><use href="#t" x="97.7" y="1954.9"/></g>
<g id="p12lq"><use href="#R18" x="15.4" y="1918.3"/><text class="n" x="49.2" y="1932.8">祁国孝</text></g>
</g>

<g id="pair13">
<g id="p13a1"><use href="#D18" x="295.5" y="1972.3"/><text class="n" x="342.6" y="1986.8">米乐</text><text class="s" x="398.6" y="1986.8">9</text><use href="#t" x="390.2" y="1972.9"/></g>
<g id="p13a2"><use href="#D18" x="295.5" y="2008.3"/><text class="n" x="342.6" y="2022.8">张磊</text><text class="s" x="398.6" y="2022.8">6</text><use href="#t" x="390.2" y="2008.9"/></g>
<g id="p13b1"><use href="#D18" x="295.5" y="2049.3"/><text class="n" x="342.6" y="2063.8">陈强</text><text class="s" x="398.6" y="2063.8">9</text><use href="#t" x="390.2" y="2049.9"/></g>
<g id="p13b2"><use href="#D18" x="295.5" y="2088.3"/><text class="n" x="342.6" y="2102.8">刘颖</text><text class="s" x="398.6" y="2102.8">8</text><use href="#t" x="390.2" y="2088.9"/></g>
<g id="p13l1a"><use href="#E18" x="196.4" y="1990.3"/><text class="s" x="203.6" y="2004.8">4</text><text class="n" x="247.5" y="2004.8">张磊</text><use href="#t" x="196.9" y="1990.9"/></g>
<g id="p13l1b"><use href="#E21" x="196.4" y="2067.3"/><text class="s" x="203.6" y="2083.3">9</text><text class="n" x="247.5" y="2083.3">刘颖</text><use href="#t" x="196.9" y="2067.9"/></g>
<g id="p13w1"><use href="#W18" x="422.5" y="1990.3"/><text class="n" x="455.6" y="2004.8">米乐</text><text class="s" x="497.7" y="2004.8">9</text><use href="#t" x="489.3" y="1990.9"/></g>
<g id="p13w2"><use href="#W21" x="422.5" y="2067.3"/><text class="n" x="455.6" y="2083.3">陈强</text><text class="s" x="497.7" y="2083.3">2</text><use href="#t" x="489.3" y="2067.9"/></g>
<g id="p13wq"><use href="#Q23" x="521.2" y="2026.3"/><text class="n" x="555.3" y="2043.3">米乐</text></g>
<g id="p13l2a"><use href="#F23" x="97.2" y="2026.3"/><text class="n" x="148.5" y="2043.3">刘颖</text></g>
<g id="p13l2b"><use href="#F21" x="97.2" y="2106.3"/></g>
<g id="p13lq"><use href="#R21" x="15.4" y="2067.3"/></g>
</g>

<g id="pair14">
<g id="p14a1"><use href="#D18" x="295.5" y="2127.3"/><text class="n" x="342.6" y="2141.8">李柏宪</text><text class="s" x="398.6" y="2141.8">9</text><use href="#t" x="390.2" y="2127.9"/></g>
<g id="p14a2"><use href="#D18" x="295.5" y="2163.3"/><text class="n" x="342.6" y="2177.8">李晓鹏</text><text class="s" x="398.6" y="2177.8">2</text><use href="#t" x="390.2" y="2163.9"/></g>
<g id="p14b1"><use href="#D18" x="295.5" y="2204.3"/><text class="n" x="342.6" y="2218.8">姜骏山</text><text class="s" x="398.6" y="2218.8">9</text><use href="#t" x="390.2" y="2204.9"/></g>
<g id="p14b2"><use href="#D18" x="295.5" y="2245.3"/><text class="n" x="342.6" y="2259.8">连承龙</text><text class="s" x="398.6" y="2259.8">7</text><use href="#t" x="390.2" y="2245.9"/></g>
<g id="p14l1a"><use href="#E18" x="196.4" y="2145.3"/><text class="s" x="203.6" y="2159.8">9</text><text class="n" x="247.5" y="2159.8">李晓鹏</text><use href="#t" x="196.9" y="2145.9"/></g>
<g id="p14l1b"><use href="#E23" x="196.4" y="2222.3"/><text class="s" x="203.6" y="2239.3">4</text><text class="n" x="247.5" y="2239.3">连承龙</text><use href="#t" x="196.9" y="2222.9"/></g>
<g id="p14w1"><use href="#W18" x="422.5" y="2145.3"/><text class="n" x="455.6" y="2159.8">李柏宪</text><text class="s" x="497.7" y="2159.8">7</text><use href="#t" x="489.3" y="2145.9"/></g>
<g id="p14w2"><use href="#W23" x="422.5" y="2222.3"/><text class="n" x="455.6" y="2239.3">姜骏山</text><text class="s" x="497.7" y="2239.3">9</text><use href="#t" x="489.3" y="2222.9"/></g>
<g id="p14wq"><use href="#Q23" x="521.2" y="2181.3"/><text class="n" x="555.3" y="2198.3">姜骏山</text></g>
<g id="p14l2a"><use href="#F23" x="97.2" y="2181.3"/><text class="s" x="104.4" y="2198.3">9</text><text class="n" x="148.5" y="2198.3">李晓鹏</text><use href="#t" x="97.7" y="2181.9"/></g>
<g id="p14l2b"><use href="#F23" x="97.2" y="2263.3"/><text class="s" x="104.4" y="2280.3">6</text><text class="n" x="148.5" y="2280.3">陈强<tspan class="u" dy="2.5">(辽)</tspan></text><use href="#t" x="97.7" y="2263.9"/></g>
<g id="p14lq"><use href="#R23" x="15.4" y="2222.3"/><text class="n" x="49.2" y="2239.3">李晓鹏</text></g>
</g>

<g id="pair15">
<g id="p15a1"><use href="#D18" x="295.5" y="2286.3"/><text class="n" x="342.6" y="2300.8">吴浩</text><text class="s" x="398.6" y="2300.8">9</text><use href="#t" x="390.2" y="2286.9"/></g>
<g id="p15a2"><use href="#D18" x="295.5" y="2322.3"/><text class="n" x="342.6" y="2336.8">朱龙</text><text class="s" x="398.6" y="2336.8">8</text><use href="#t" x="390.2" y="2322.9"/></g>
<g id="p15b1"><use href="#D18" x="295.5" y="2363.3"/><text class="n" x="342.6" y="2377.8">李博</text><text class="s" x="398.6" y="2377.8">9</text><use href="#t" x="390.2" y="2363.9"/></g>
<g id="p15b2"><use href="#D18" x="295.5" y="2404.3"/><text class="n" x="342.6" y="2418.8">刘屹骑</text><text class="s" x="398.6" y="2418.8">6</text><use href="#t" x="390.2" y="2404.9"/></g>
<g id="p15l1a"><use href="#E18" x="196.4" y="2304.3"/><text class="s" x="203.6" y="2318.8">9</text><text class="n" x="247.5" y="2318.8">朱龙</text><use href="#t" x="196.9" y="2304.9"/></g>
<g id="p15l1b"><use href="#E23" x="196.4" y="2381.3"/><text class="s" x="203.6" y="2398.3">3</text><text class="n" x="247.5" y="2398.3">刘屹骑</text><use href="#t" x="196.9" y="2381.9"/></g>
<g id="p15w1"><use href="#W18" x="422.5" y="2304.3"/><text class="n" x="455.6" y="2318.8">吴浩</text><text class="s" x="497.7" y="2318.8">5</text><use href="#t" x="489.3" y="2304.9"/></g>
<g id="p15w2"><use href="#W23" x="422.5" y="2381.3"/><text class="n" x="455.6" y="2398.3">李博</text><text class="s" x="497.7" y="2398.3">9</text><use href="#t" x="489.3" y="2381.9"/></g>
<g id="p15wq"><use href="#Q23" x="521.2" y="2340.3"/><text class="n" x="555.3" y="2357.3">李博</text></g>
<g id="p15l2a"><use href="#F23" x="97.2" y="2340.3"/><text class="s" x="104.4" y="2357.3">9</text><text class="n" x="148.5" y="2357.3">朱龙</text><use href="#t" x="97.7" y="2340.9"/></g>
<g id="p15l2b"><use href="#F23" x="97.2" y="2422.3"/><text class="s" x="104.4" y="2439.3">6</text><text class="n" x="148.5" y="2439.3">陈晓玉</text><use href="#t" x="97.7" y="2422.9"/></g>
<g id="p15lq"><use href="#R23" x="15.4" y="2381.3"/><text class="n" x="49.2" y="2398.3">朱龙</text></g>
</g>

<g id="pair16">
<g id="p16a1"><use href="#D18" x="295.5" y="2445.3"/><text class="n" x="342.6" y="2459.8">吴振宇</text><text class="s" x="398.6" y="2459.8">1</text><use href="#t" x="390.2" y="2445.9"/></g>
<g id="p16a2"><use href="#D18" x="295.5" y="2481.3"/><text class="n" x="342.6" y="2495.8">房国明</text><text class="s" x="398.6" y="2495.8">9</text><use href="#t" x="390.2" y="2481.9"/></g>
<g id="p16b1"><use href="#D19" x="295.5" y="2522.3"/><text class="n" x="342.6" y="2537.3">陈晓玉<tspan class="u" dy="2.5">(女)</tspan></text><text class="s" x="398.6" y="2537.3">9</text><use href="#t" x="390.2" y="2522.9"/></g>
<g id="p16b2"><use href="#D18" x="295.5" y="2559.3"/><text class="n" x="342.6" y="2573.8">雷镒玮</text><text class="s" x="398.6" y="2573.8">8</text><use href="#t" x="390.2" y="2559.9"/></g>
<g id="p16l1a"><use href="#E18" x="196.4" y="2463.3"/><text class="s" x="203.6" y="2477.8">0</text><text class="n" x="247.5" y="2477.8">吴振宇</text><use href="#t" x="196.9" y="2463.9"/></g>
<g id="p16l1b"><use href="#E18" x="196.4" y="2541.3"/><text class="s" x="203.6" y="2555.8">9</text><text class="n" x="247.5" y="2555.8">雷镒玮</text><use href="#t" x="196.9" y="2541.9"/></g>
<g id="p16w1"><use href="#W18" x="422.5" y="2463.3"/><text class="n" x="455.6" y="2477.8">房国明</text><text class="s" x="497.7" y="2477.8">9</text><use href="#t" x="489.3" y="2463.9"/></g>
<g id="p16w2"><use href="#W18" x="422.5" y="2541.3"/><text class="n" x="455.6" y="2555.8">陈晓玉</text><text class="s" x="497.7" y="2555.8">8</text><use href="#t" x="489.3" y="2541.9"/></g>
<g id="p16wq"><use href="#Q23" x="521.2" y="2499.3"/><text class="n" x="555.3" y="2516.3">房国明</text></g>
<g id="p16l2a"><use href="#F23" x="97.2" y="2499.3"/><text class="s" x="104.4" y="2516.3">9</text><text class="n" x="148.5" y="2516.3">雷镒玮</text><use href="#t" x="97.7" y="2499.9"/></g>
<g id="p16l2b"><use href="#F23" x="97.2" y="2577.3"/><text class="s" x="104.4" y="2594.3">4</text><text class="n" x="148.5" y="2594.3">吴浩</text><use href="#t" x="97.7" y="2577.9"/></g>
<g id="p16lq"><use href="#R18" x="15.4" y="2541.3"/><text class="n" x="49.2" y="2555.8">雷镒玮</text></g>
</g>

<g id="pair17">
<g id="p17a1"><use href="#D18" x="295.5" y="2600.3"/><text class="n" x="342.6" y="2614.8">梁时瑜</text><text class="s" x="398.6" y="2614.8">8</text><use href="#t" x="390.2" y="2600.9"/></g>
<g id="p17a2"><use href="#D18" x="295.5" y="2636.3"/><text class="n" x="342.6" y="2650.8">肖翔宇</text><text class="s" x="398.6" y="2650.8">9</text><use href="#t" x="390.2" y="2636.9"/></g>
<g id="p17b1"><use href="#D18" x="295.5" y="2677.3"/><text class="n" x="342.6" y="2691.8">刘俊岩</text><text class="s" x="398.6" y="2691.8">7</text><use href="#t" x="390.2" y="2677.9"/></g>
<g id="p17b2"><use href="#D18" x="295.5" y="2713.3"/><text class="n" x="342.6" y="2727.8">刘鑫</text><text class="s" x="398.6" y="2727.8">9</text><use href="#t" x="390.2" y="2713.9"/></g>
<g id="p17l1a"><use href="#E18" x="196.4" y="2618.3"/><text class="s" x="203.6" y="2632.8">9</text><text class="n" x="247.5" y="2632.8">梁时瑜</text><use href="#t" x="196.9" y="2618.9"/></g>
<g id="p17l1b"><use href="#E18" x="196.4" y="2695.3"/><text class="s" x="203.6" y="2709.8">1</text><text class="n" x="247.5" y="2709.8">刘俊岩</text><use href="#t" x="196.9" y="2695.9"/></g>
<g id="p17w1"><use href="#W18" x="422.5" y="2618.3"/><text class="n" x="455.6" y="2632.8">肖翔宇</text><text class="s" x="497.7" y="2632.8">8</text><use href="#t" x="489.3" y="2618.9"/></g>
<g id="p17w2"><use href="#W18" x="422.5" y="2695.3"/><text class="n" x="455.6" y="2709.8">刘鑫</text><text class="s" x="497.7" y="2709.8">9</text><use href="#t" x="489.3" y="2695.9"/></g>
<g id="p17wq"><use href="#Q23" x="521.2" y="2654.3"/><text class="n" x="555.3" y="2671.3">刘鑫</text></g>
<g id="p17l2a"><use href="#F23" x="97.2" y="2654.3"/><text class="s" x="104.4" y="2671.3">9</text><text class="n" x="148.5" y="2671.3">梁时瑜</text><use href="#t" x="97.7" y="2654.9"/></g>
<g id="p17l2b"><use href="#F18" x="97.2" y="2731.3"/><text class="s" x="104.4" y="2745.8">7</text><text class="n" x="148.5" y="2745.8">郭圣强</text><use href="#t" x="97.7" y="2731.9"/></g>
<g id="p17lq"><use href="#R18" x="15.4" y="2695.3"/><text class="n" x="49.2" y="2709.8">梁时瑜</text></g>
</g>

<g id="pair18">
<g id="p18a1"><use href="#D18" x="295.5" y="2749.3"/><text class="n" x="342.6" y="2763.8">刘 海 涛</text><text class="s" x="398.6" y="2763.8">9</text><use href="#t" x="390.2" y="2749.9"/></g>
<g id="p18a2"><use href="#D18" x="295.5" y="2785.3"/><text class="n" x="342.6" y="2799.8">邬珺一</text><text class="s" x="398.6" y="2799.8">8</text><use href="#t" x="390.2" y="2785.9"/></g>
<g id="p18b1"><use href="#D18" x="295.5" y="2821.3"/><text class="n" x="342.6" y="2835.8">郭圣强</text><text class="s" x="398.6" y="2835.8">9</text><use href="#t" x="390.2" y="2821.9"/></g>
<g id="p18b2"><use href="#D18" x="295.5" y="2857.3"/><text class="n" x="342.6" y="2871.8">崔栋</text><text class="s" x="398.6" y="2871.8">5</text><use href="#t" x="390.2" y="2857.9"/></g>
<g id="p18l1a"><use href="#E18" x="196.4" y="2767.3"/><text class="s" x="203.6" y="2781.8">9</text><text class="n" x="247.5" y="2781.8">邬珺一</text><use href="#t" x="196.9" y="2767.9"/></g>
<g id="p18l1b"><use href="#E18" x="196.4" y="2839.3"/><text class="s" x="203.6" y="2853.8">8</text><text class="n" x="247.5" y="2853.8">崔栋</text><use href="#t" x="196.9" y="2839.9"/></g>
<g id="p18w1"><use href="#W18" x="422.5" y="2767.3"/><text class="n" x="455.6" y="2781.8">刘 海 涛</text><text class="s" x="497.7" y="2781.8">9</text><use href="#t" x="489.3" y="2767.9"/></g>
<g id="p18w2"><use href="#W18" x="422.5" y="2839.3"/><text class="n" x="455.6" y="2853.8">郭圣强</text><text class="s" x="497.7" y="2853.8">1</text><use href="#t" x="489.3" y="2839.9"/></g>
<g id="p18wq"><use href="#Q18" x="521.2" y="2803.3"/><text class="n" x="555.3" y="2817.8">刘 海 涛</text></g>
<g id="p18l2a"><use href="#F18" x="97.2" y="2803.3"/><text class="s" x="104.4" y="2817.8">9</text><text class="n" x="148.5" y="2817.8">邬珺一</text><use href="#t" x="97.7" y="2803.9"/></g>
<g id="p18l2b"><use href="#F18" x="97.2" y="2875.3"/><text class="s" x="104.4" y="2889.8">8</text><text class="n" x="148.5" y="2889.8">肖翔宇</text><use href="#t" x="97.7" y="2875.9"/></g>
<g id="p18lq"><use href="#R18" x="15.4" y="2839.3"/><text class="n" x="49.2" y="2853.8">邬珺一</text></g>
</g>

<g id="pair19">
<g id="p19a1"><use href="#D18" x="295.5" y="2893.3"/><text class="n" x="342.6" y="2907.8">李恒</text><text class="s" x="398.6" y="2907.8">5</text><use href="#t" x="390.2" y="2893.9"/></g>
<g id="p19a2"><use href="#D18" x="295.5" y="2929.3"/><text class="n" x="342.6" y="2943.8">宫海峰</text><text class="s" x="398.6" y="2943.8">9</text><use href="#t" x="390.2" y="2929.9"/></g>
<g id="p19b1"><use href="#D18" x="295.5" y="2965.3"/><text class="n" x="342.6" y="2979.8">代勇</text><text class="s" x="398.6" y="2979.8">3</text><use href="#t" x="390.2" y="2965.9"/></g>
<g id="p19b2"><use href="#D18" x="295.5" y="3001.3"/><text class="n" x="342.6" y="3015.8">陈双有</text><text class="s" x="398.6" y="3015.8">9</text><use href="#t" x="390.2" y="3001.9"/></g>
<g id="p19l1a"><use href="#E18" x="196.4" y="2911.3"/><text class="s" x="203.6" y="2925.8">9</text><text class="n" x="247.5" y="2925.8">李恒</text><use href="#t" x="196.9" y="2911.9"/></g>
<g id="p19l1b"><use href="#E18" x="196.4" y="2983.3"/><text class="s" x="203.6" y="2997.8">7</text><text class="n" x="247.5" y="2997.8">代勇</text><use href="#t" x="196.9" y="2983.9"/></g>
<g id="p19w1"><use href="#W18" x="422.5" y="2911.3"/><text class="n" x="455.6" y="2925.8">宫海峰</text><text class="n" x="497.7" y="2925.8">无</text></g>
<g id="p19w2"><use href="#W18" x="422.5" y="2983.3"/><text class="n" x="455.6" y="2997.8">陈双有</text><text class="n" x="497.7" y="2997.8">无</text></g>
<g id="p19wq"><use href="#Q18" x="521.2" y="2947.3"/><text class="n" x="555.3" y="2961.8">宫海峰</text></g>
<g id="p19l2a"><use href="#F18" x="97.2" y="2947.3"/><text class="s" x="104.4" y="2961.8">2</text><text class="n" x="148.5" y="2961.8">李恒</text><use href="#t" x="97.7" y="2947.9"/></g>
<g id="p19l2b"><use href="#F18" x="97.2" y="3019.3"/><text class="s" x="104.4" y="3033.8">9</text><text class="n" x="148.5" y="3033.8">史天琪</text><use href="#t" x="97.7" y="3019.9"/></g>
<g id="p19lq"><use href="#R18" x="15.4" y="2983.3"/><text class="n" x="49.2" y="2997.8">史天琪</text></g>
</g>

<g id="pair20">
<g id="p20a1"><use href="#D18" x="295.5" y="3037.3"/><text class="n" x="342.6" y="3051.8">赵云彪</text><text class="s" x="398.6" y="3051.8">7</text><use href="#t" x="390.2" y="3037.9"/></g>
<g id="p20a2"><use href="#D18" x="295.5" y="3073.3"/><text class="n" x="342.6" y="3087.8">宛全乐</text><text class="s" x="398.6" y="3087.8">9</text><use href="#t" x="390.2" y="3073.9"/></g>
<g id="p20b1"><use href="#D18" x="295.5" y="3109.3"/><text class="n" x="342.6" y="3123.8">王海峰</text><text class="s" x="398.6" y="3123.8">8</text><use href="#t" x="390.2" y="3109.9"/></g>
<g id="p20b2"><use href="#D18" x="295.5" y="3145.3"/><text class="n" x="342.6" y="3159.8">史天琪<tspan class="u" dy="2.5">(女)</tspan></text><text class="s" x="398.6" y="3159.8">9</text><use href="#t" x="390.2" y="3145.9"/></g>
<g id="p20l1a"><use href="#E18" x="196.4" y="3055.3"/><text class="s" x="203.6" y="3069.8">9</text><text class="n" x="247.5" y="3069.8">赵云彪</text><use href="#t" x="196.9" y="3055.9"/></g>
<g id="p20l1b"><use href="#E18" x="196.4" y="3127.3"/><text class="s" x="203.6" y="3141.8">3</text><text class="n" x="247.5" y="3141.8">王海峰</text><use href="#t" x="196.9" y="3127.9"/></g>
<g id="p20w1"><use href="#W18" x="422.5" y="3055.3"/><text class="n" x="455.6" y="3069.8">宛全乐</text><text class="s" x="497.7" y="3069.8">9</text><use href="#t" x="489.3" y="3055.9"/></g>
<g id="p20w2"><use href="#W18" x="422.5" y="3127.3"/><text class="n" x="455.6" y="3141.8">史天琪</text><text class="s" x="497.7" y="3141.8">5</text><use href="#t" x="489.3" y="3127.9"/></g>
<g id="p20wq"><use href="#Q18" x="521.2" y="3091.3"/><text class="n" x="555.3" y="3105.8">宛全乐</text></g>
<g id="p20l2a"><use href="#F18" x="97.2" y="3091.3"/><text class="s" x="104.4" y="3105.8">6</text><text class="n" x="148.5" y="3105.8">赵云彪</text><use href="#t" x="97.7" y="3091.9"/></g>
<g id="p20l2b"><use href="#F18" x="97.2" y="3163.3"/><text class="s" x="104.4" y="3177.8">9</text><text class="n" x="148.5" y="3177.8">宫海峰</text><use href="#t" x="97.7" y="3163.9"/></g>
<g id="p20lq"><use href="#R18" x="15.4" y="3127.3"/><text class="n" x="49.2" y="3141.8">宫海峰</text></g>
</g>

<g id="pair21">
<g id="p21a1"><use href="#D18" x="295.5" y="3181.3"/><text class="n" x="342.6" y="3195.8">孙鹏</text><text class="s" x="398.6" y="3195.8">9</text><use href="#t" x="390.2" y="3181.9"/></g>
<g id="p21a2"><use href="#D18" x="295.5" y="3217.3"/><text class="n" x="342.6" y="3231.8">张永</text><text class="s" x="398.6" y="3231.8">4</text><use href="#t" x="390.2" y="3217.9"/></g>
<g id="p21b1"><use href="#D18" x="295.5" y="3253.3"/><text class="n" x="342.6" y="3267.8">艾鹏宇</text><text class="s" x="398.6" y="3267.8">9</text><use href="#t" x="390.2" y="3253.9"/></g>
<g id="p21b2"><use href="#D18" x="295.5" y="3289.3"/><text class="n" x="342.6" y="3303.8">陈思明<tspan class="u" dy="2.5">(女)</tspan></text><text class="s" x="398.6" y="3303.8">7</text><use href="#t" x="390.2" y="3289.9"/></g>
<g id="p21l1a"><use href="#E18" x="196.4" y="3199.3"/><text class="s" x="203.6" y="3213.8">8</text><text class="n" x="247.5" y="3213.8">张永</text><use href="#t" x="196.9" y="3199.9"/></g>
<g id="p21l1b"><use href="#E18" x="196.4" y="3271.3"/><text class="s" x="203.6" y="3285.8">9</text><text class="n" x="247.5" y="3285.8">陈思明</text><use href="#t" x="196.9" y="3271.9"/></g>
<g id="p21w1"><use href="#W18" x="422.5" y="3199.3"/><text class="n" x="455.6" y="3213.8">孙鹏</text><text class="s" x="497.7" y="3213.8">6</text><use href="#t" x="489.3" y="3199.9"/></g>
<g id="p21w2"><use href="#W18" x="422.5" y="3271.3"/><text class="n" x="455.6" y="3285.8">艾鹏宇</text><text class="s" x="497.7" y="3285.8">9</text><use href="#t" x="489.3" y="3271.9"/></g>
<g id="p21wq"><use href="#Q18" x="521.2" y="3235.3"/><text class="n" x="555.3" y="3249.8">艾鹏宇</text></g>
<g id="p21l2a"><use href="#F18" x="97.2" y="3235.3"/><text class="s" x="104.4" y="3249.8">9</text><text class="n" x="148.5" y="3249.8">陈思明</text><use href="#t" x="97.7" y="3235.9"/></g>
<g id="p21l2b"><use href="#F18" x="97.2" y="3307.3"/><text class="s" x="104.4" y="3321.8">2</text><text class="n" x="148.5" y="3321.8">李贺</text><use href="#t" x="97.7" y="3307.9"/></g>
<g id="p21lq"><use href="#R18" x="15.4" y="3271.3"/><text class="n" x="49.2" y="3285.8">陈思明</text></g>
</g>

<g id="pair22">
<g id="p22a1"><use href="#D18" x="295.5" y="3325.3"/><text class="n" x="342.6" y="3339.8">戎易</text><text class="s" x="398.6" y="3339.8">5</text><use href="#t" x="390.2" y="3325.9"/></g>
<g id="p22a2"><use href="#D18" x="295.5" y="3361.3"/><text class="n" x="342.6" y="3375.8">李贺</text><text class="s" x="398.6" y="3375.8">9</text><use href="#t" x="390.2" y="3361.9"/></g>
<g id="p22b1"><use href="#D18" x="295.5" y="3397.3"/><text class="n" x="342.6" y="3411.8">薄俊杰</text><text class="s" x="398.6" y="3411.8">3</text><use href="#t" x="390.2" y="3397.9"/></g>
<g id="p22b2"><use href="#D18" x="295.5" y="3433.3"/><text class="n" x="342.6" y="3447.8">申重阳</text><text class="s" x="398.6" y="3447.8">9</text><use href="#t" x="390.2" y="3433.9"/></g>
<g id="p22l1a"><use href="#E18" x="196.4" y="3343.3"/><text class="s" x="203.6" y="3357.8">4</text><text class="n" x="247.5" y="3357.8">戎易</text><use href="#t" x="196.9" y="3343.9"/></g>
<g id="p22l1b"><use href="#E18" x="196.4" y="3415.3"/><text class="s" x="203.6" y="3429.8">9</text><text class="n" x="247.5" y="3429.8">薄俊杰</text><use href="#t" x="196.9" y="3415.9"/></g>
<g id="p22w1"><use href="#W18" x="422.5" y="3343.3"/><text class="n" x="455.6" y="3357.8">李贺</text><text class="s" x="497.7" y="3357.8">7</text><use href="#t" x="489.3" y="3343.9"/></g>
<g id="p22w2"><use href="#W18" x="422.5" y="3415.3"/><text class="n" x="455.6" y="3429.8">申重阳</text><text class="s" x="497.7" y="3429.8">9</text><use href="#t" x="489.3" y="3415.9"/></g>
<g id="p22wq"><use href="#Q18" x="521.2" y="3379.3"/><text class="n" x="555.3" y="3393.8">申重阳</text></g>
<g id="p22l2a"><use href="#F18" x="97.2" y="3379.3"/><text class="n" x="148.5" y="3393.8">薄俊杰</text></g>
<g id="p22l2b"><use href="#F18" x="97.2" y="3451.3"/></g>
<g id="p22lq"><use href="#R18" x="15.4" y="3415.3"/></g>
</g>

<g id="pair23">
<g id="p23a1"><use href="#D18" x="295.5" y="3469.3"/><text class="n" x="342.6" y="3483.8">李赫文</text><text class="s" x="398.6" y="3483.8">8</text><use href="#t" x="390.2" y="3469.9"/></g>
<g id="p23a2"><use href="#D18" x="295.5" y="3505.3"/><text class="n" x="342.6" y="3519.8">白鸽<tspan class="u" dy="2.5">(女)</tspan></text><text class="s" x="398.6" y="3519.8">9</text><use href="#t" x="390.2" y="3505.9"/></g>
<g id="p23b1"><use href="#D18" x="295.5" y="3541.3"/><text class="n" x="342.6" y="3555.8">富承浩</text><text class="s" x="398.6" y="3555.8">2</text><use href="#t" x="390.2" y="3541.9"/></g>
<g id="p23b2"><use href="#D18" x="295.5" y="3577.3"/><text class="n" x="342.6" y="3591.8">居热提</text><text class="s" x="398.6" y="3591.8">9</text><use href="#t" x="390.2" y="3577.9"/></g>
<g id="p23l1a"><use href="#E18" x="196.4" y="3487.3"/><text class="s" x="203.6" y="3501.8">9</text><text class="n" x="247.5" y="3501.8">李赫文</text><use href="#t" x="196.9" y="3487.9"/></g>
<g id="p23l1b"><use href="#E18" x="196.4" y="3559.3"/><text class="s" x="203.6" y="3573.8">2</text><text class="n" x="247.5" y="3573.8">富承浩</text><use href="#t" x="196.9" y="3559.9"/></g>
<g id="p23w1"><use href="#W18" x="422.5" y="3487.3"/><text class="n" x="455.6" y="3501.8">白鸽</text><text class="s" x="497.7" y="3501.8">7</text><use href="#t" x="489.3" y="3487.9"/></g>
<g id="p23w2"><use href="#W18" x="422.5" y="3559.3"/><text class="n" x="455.6" y="3573.8">居热提</text><text class="s" x="497.7" y="3573.8">9</text><use href="#t" x="489.3" y="3559.9"/></g>
<g id="p23wq"><use href="#Q18" x="521.2" y="3523.3"/><text class="n" x="555.3" y="3537.8">居热提</text></g>
<g id="p23l2a"><use href="#F18" x="97.2" y="3523.3"/><text class="s" x="104.4" y="3537.8">6</text><text class="n" x="148.5" y="3537.8">李赫文</text><use href="#t" x="97.7" y="3523.9"/></g>
<g id="p23l2b"><use href="#F18" x="97.2" y="3595.3"/><text class="s" x="104.4" y="3609.8">9</text><text class="n" x="148.5" y="3609.8">丁伟</text><use href="#t" x="97.7" y="3595.9"/></g>
<g id="p23lq"><use href="#R18" x="15.4" y="3559.3"/><text class="n" x="49.2" y="3573.8">丁伟</text></g>
</g>

<g id="pair24">
<g id="p24a1"><use href="#D18" x="295.5" y="3613.3"/><text class="n" x="342.6" y="3627.8">贾浩晨</text><text class="s" x="398.6" y="3627.8">7</text><use href="#t" x="390.2" y="3613.9"/></g>
<g id="p24a2"><use href="#D18" x="295.5" y="3649.3"/><text class="n" x="342.6" y="3663.8">陈强<tspan class="u" dy="2.5">(女)</tspan></text><text class="s" x="398.6" y="3663.8">9</text><use href="#t" x="390.2" y="3649.9"/></g>
<g id="p24b1"><use href="#D18" x="295.5" y="3685.3"/><text class="n" x="342.6" y="3699.8">沈炘炀</text><text class="s" x="398.6" y="3699.8">5</text><use href="#t" x="390.2" y="3685.9"/></g>
<g id="p24b2"><use href="#D18" x="295.5" y="3721.3"/><text class="n" x="342.6" y="3735.8">丁伟</text><text class="s" x="398.6" y="3735.8">9</text><use href="#t" x="390.2" y="3721.9"/></g>
<g id="p24l1a"><use href="#E18" x="196.4" y="3631.3"/><text class="s" x="203.6" y="3645.8">7</text><text class="n" x="247.5" y="3645.8">贾浩晨</text><use href="#t" x="196.9" y="3631.9"/></g>
<g id="p24l1b"><use href="#E18" x="196.4" y="3703.3"/><text class="s" x="203.6" y="3717.8">9</text><text class="n" x="247.5" y="3717.8">沈炘炀</text><use href="#t" x="196.9" y="3703.9"/></g>
<g id="p24w1"><use href="#W18" x="422.5" y="3631.3"/><text class="n" x="455.6" y="3645.8">陈强</text><text class="s" x="497.7" y="3645.8">9</text><use href="#t" x="489.3" y="3631.9"/></g>
<g id="p24w2"><use href="#W18" x="422.5" y="3703.3"/><text class="n" x="455.6" y="3717.8">丁伟</text><text class="s" x="497.7" y="3717.8">7</text><use href="#t" x="489.3" y="3703.9"/></g>
<g id="p24wq"><use href="#Q18" x="521.2" y="3667.3"/><text class="n" x="555.3" y="3681.8">陈强</text></g>
<g id="p24l2a"><use href="#F18" x="97.2" y="3667.3"/><text class="s" x="104.4" y="3681.8">7</text><text class="n" x="148.5" y="3681.8">沈炘炀</text><use href="#t" x="97.7" y="3667.9"/></g>
<g id="p24l2b"><use href="#F18" x="97.2" y="3739.3"/><text class="s" x="104.4" y="3753.8">9</text><text class="n" x="148.5" y="3753.8">白鸽</text><use href="#t" x="97.7" y="3739.9"/></g>
<g id="p24lq"><use href="#R18" x="15.4" y="3703.3"/><text class="n" x="49.2" y="3717.8">白鸽</text></g>
</g>

<g id="dates-division" class="d m">
<text x="351.5" y="121.8">12/27 10:00</text><text x="351.5" y="200.3">12/27 10:00</text>
<text x="351.5" y="280">12/27 10:00</text><text x="351.5" y="354.2">12/27 10:00</text>
<text x="351.5" y="437.8">12/27 10:00</text><text x="351.5" y="517.5">12/27 10:00</text>
<text x="351.5" y="600.8">12/27 10:00</text><text x="351.5" y="680.3">12/27 10:00</text>
<text x="351.5" y="759.8">12/27 10:00</text><text x="351.5" y="839.3">12/27 10:00</text>
<text x="351.5" y="918.8">12/27 10:00</text><text x="351.5" y="993.3">12/27 10:00</text>
<text x="351.5" y="1072.8">12/27 10:00</text><text x="351.5" y="1149.8">12/27 10:00</text>
<text x="351.5" y="1221.8">12/27 10:00</text><text x="351.5" y="1301.3">12/27 10:00</text>
<text x="351.5" y="1380.8">12/27 13:00</text><text x="351.5" y="1460.3">12/27 13:00</text>
<text x="351.5" y="1540.8">12/27 13:00</text><text x="351.5" y="1617.8">12/27 13:00</text>
<text x="351.5" y="1694.8">12/27 13:00</text><text x="351.5" y="1774.3">12/27 13:00</text>
<text x="351.5" y="1854.8">12/27 13:00</text><text x="351.5" y="1931.8">12/27 13:00</text>
<text x="351.5" y="2003.8">12/27 13:00</text><text x="351.5" y="2082.3">12/27 13:00</text>
<text x="351.5" y="2158.8">12/27 13:00</text><text x="351.5" y="2238.3">12/27 13:00</text>
<text x="351.5" y="2317.8">12/27 13:00</text><text x="351.5" y="2397.3">12/27 13:00</text>
<text x="351.5" y="2476.8">12/27 13:00</text><text x="351.5" y="2554.8">12/27 13:00</text>
<text x="351.5" y="2631.8">12/27 16:00</text><text x="351.5" y="2708.8">12/27 16:00</text>
<text x="351.5" y="2780.8">12/27 16:00</text><text x="351.5" y="2852.8">12/27 16:00</text>
<text x="351.5" y="2924.8">12/27 16:00</text><text x="351.5" y="2996.8">12/27 16:00</text>
<text x="351.5" y="3068.8">12/27 16:00</text><text x="351.5" y="3140.8">12/27 16:00</text>
<text x="351.5" y="3212.8">12/27 16:00</text><text x="351.5" y="3284.8">12/27 16:00</text>
<text x="351.5" y="3356.8">12/27 16:00</text><text x="351.5" y="3428.8">12/27 16:00</text>
<text x="351.5" y="3500.8">12/27 16:00</text><text x="351.5" y="3572.8">12/27 16:00</text>
<text x="351.5" y="3644.8">12/27 16:00</text><text x="351.5" y="3716.8">12/27 16:00</text>
</g>
<g id="dates-loser1" class="d" clip-path="url(#k1)">
<text x="196.4" y="157.8">12/27 19:00</text><text x="196.4" y="315.8">12/27 19:00</text><text x="196.4" y="476.3">12/27 19:00</text><text x="196.4" y="639.3">12/27 19:00</text>
<text x="196.4" y="798.3">12/27 19:00</text><text x="196.4" y="954.8">12/27 19:00</text><text x="196.4" y="1111.3">12/27 19:00</text><text x="196.4" y="1260.3">12/27 19:00</text>
<text x="196.4" y="1419.3">12/27 19:00</text><text x="196.4" y="1579.3">12/27 19:00</text><text x="196.4" y="1733.3">12/27 19:00</text><text x="196.4" y="1893.3">12/27 19:00</text>
<text x="196.4" y="2042.3">12/27 19:00</text><text x="196.4" y="2197.3">12/27 19:00</text><text x="196.4" y="2356.3">12/27 19:00</text><text x="196.4" y="2515.3">12/27 19:00</text>
<text x="196.4" y="2670.3">12/28 13:00</text><text x="196.4" y="2816.8">12/28 13:00</text><text x="196.4" y="2960.8">12/28 13:00</text><text x="196.4" y="3104.8">12/28 13:00</text>
<text x="196.4" y="3248.8">12/28 13:00</text><text x="196.4" y="3392.8">12/28 13:00</text><text x="196.4" y="3536.8">12/28 13:00</text><text x="196.4" y="3680.8">12/28 13:00</text>
</g>
<g id="dates-winner" class="d" clip-path="url(#k3)">
<text x="422.5" y="157.8">12/28 13:00</text><text x="422.5" y="315.8">12/28 13:00</text><text x="422.5" y="476.3">12/28 13:00</text><text x="422.5" y="639.3">12/28 13:00</text>
<text x="422.5" y="798.3">12/28 13:00</text><text x="422.5" y="954.8">12/28 13:00</text><text x="422.5" y="1111.3">12/28 13:00</text><text x="422.5" y="1260.3">12/28 13:00</text>
<text x="422.5" y="1419.3">12/28 16:00</text><text x="422.5" y="1579.3">12/28 16:00</text><text x="422.5" y="1733.3">12/28 16:00</text><text x="422.5" y="1893.3">12/28 16:00</text>
<text x="422.5" y="2042.3">12/28 16:00</text><text x="422.5" y="2197.3">12/28 16:00</text><text x="422.5" y="2356.3">12/28 16:00</text><text x="422.5" y="2515.3">12/28 16:00</text>
<text x="422.5" y="2670.3">12/28 16:00</text><text x="422.5" y="2816.8">12/28 16:00</text><text x="422.5" y="2960.8">12/28 16:00</text><text x="422.5" y="3104.8">12/28 16:00</text>
<text x="422.5" y="3248.8">12/28 16:00</text><text x="422.5" y="3392.8">12/28 16:00</text><text x="422.5" y="3536.8">12/28 16:00</text><text x="422.5" y="3680.8">12/28 16:00</text>
</g>
<g id="dates-loser2" class="d" clip-path="url(#k2)">
<text x="97.2" y="200.3">12/28 19:00</text><text x="97.2" y="354.2">12/28 19:00</text><text x="97.2" y="517.5">12/28 19:00</text><text x="97.2" y="680.3">12/28 19:00</text>
<text x="97.2" y="839.3">12/28 19:00</text><text x="97.2" y="993.3">12/28 19:00</text><text x="97.2" y="1149.8">12/28 19:00</text><text x="97.2" y="1301.3">12/28 19:00</text>
<text x="97.2" y="1460.3">12/28 19:00</text><text x="97.2" y="1617.8">12/28 19:00</text><text x="97.2" y="1774.3">12/28 19:00</text><text x="97.2" y="1931.8">12/28 19:00</text>
<text x="97.2" y="2082.3">12/28 19:00</text><text x="97.2" y="2238.3">12/28 19:00</text><text x="97.2" y="2397.3">12/28 19:00</text><text x="97.2" y="2554.8">12/28 19:00</text>
<text x="97.2" y="2708.8">12/28 19:00</text><text x="97.2" y="2852.8">12/28 19:00</text><text x="97.2" y="2996.8">12/28 19:00</text><text x="97.2" y="3140.8">12/28 19:00</text>
<text x="97.2" y="3284.8">12/28 19:00</text><text x="97.2" y="3428.8">12/28 19:00</text><text x="97.2" y="3572.8">12/28 19:00</text><text x="97.2" y="3716.8">12/28 19:00</text>
</g>
</svg>
